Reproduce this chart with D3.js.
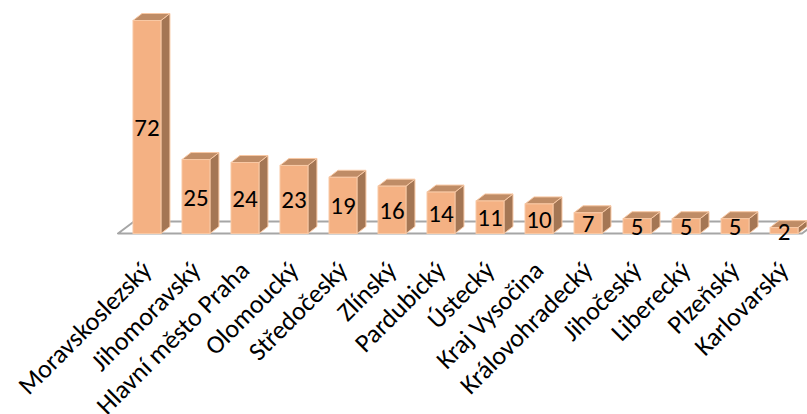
<!DOCTYPE html>
<html>
<head>
<meta charset="utf-8">
<script src="https://cdn.jsdelivr.net/npm/d3@7"></script>
<style>
  html, body { margin: 0; padding: 0; background: #fff; }
  svg { display: block; }
  text { font-family: Carlito, Lato, "Open Sans", sans-serif; fill: #000; }
</style>
</head>
<body>
<svg id="chart" width="807" height="414"></svg>
<script>
// Počet případů podle krajů
const regions = ["Moravskoslezský", "Jihomoravský", "Hlavní město Praha", "Olomoucký",
  "Středočeský", "Zlínský", "Pardubický", "Ústecký", "Kraj Vysočina",
  "Královohradecký", "Jihočeský", "Liberecký", "Plzeňský", "Karlovarský"];
const counts = [72, 25, 24, 23, 19, 16, 14, 11, 10, 7, 5, 5, 5, 2];

const svg = d3.select("#chart");

// plot geometry
const baseY = 233.5;          // front edge of the floor
const depthX = 9, depthY = 7; // 3D depth of each bar
const floorDX = 16, floorDY = 12;

const x = d3.scaleBand()
  .domain(regions)
  .range([133, 798])
  .paddingInner(0.43)
  .paddingOuter(0);

const y = d3.scaleLinear()
  .domain([0, 72])
  .range([baseY, 20.5]);

// floor
const floorLeft = 118, floorRight = 802;
svg.append("path")
  .attr("d", `M${floorLeft},${baseY} L${floorRight},${baseY} L${floorRight + floorDX},${baseY - floorDY} L${floorLeft + floorDX},${baseY - floorDY} Z`)
  .attr("fill", "#fff")
  .attr("stroke", "#a6a6a6")
  .attr("stroke-width", 2)
  .attr("stroke-linejoin", "round");

const colors = { front: "#f4b183", top: "#bf8c66", side: "#a47654", edge: "#f8c8a4" };

const bars = svg.append("g").selectAll("g")
  .data(regions.map((r, i) => ({ region: r, value: counts[i] })))
  .join("g");

bars.each(function(d) {
  const g = d3.select(this);
  const x0 = x(d.region), w = x.bandwidth();
  const yTop = y(d.value), yBot = y(0);
  // side face
  g.append("path")
    .attr("d", `M${x0 + w},${yTop} L${x0 + w + depthX},${yTop - depthY} L${x0 + w + depthX},${yBot - depthY} L${x0 + w},${yBot} Z`)
    .attr("fill", colors.side).attr("stroke", colors.edge).attr("stroke-width", 1);
  // top face
  g.append("path")
    .attr("d", `M${x0},${yTop} L${x0 + depthX},${yTop - depthY} L${x0 + w + depthX},${yTop - depthY} L${x0 + w},${yTop} Z`)
    .attr("fill", colors.top).attr("stroke", colors.edge).attr("stroke-width", 1);
  // front face
  g.append("rect")
    .attr("x", x0).attr("y", yTop)
    .attr("width", w).attr("height", yBot - yTop)
    .attr("fill", colors.front).attr("stroke", colors.edge).attr("stroke-width", 1);
  // value label
  g.append("text")
    .attr("x", x0 + w / 2)
    .attr("y", (yTop + yBot) / 2)
    .attr("dy", "0.36em")
    .attr("text-anchor", "middle")
    .attr("font-size", 25)
    .text(d.value);
});

// category labels, rotated
svg.append("g").selectAll("text")
  .data(regions)
  .join("text")
  .attr("transform", d => `translate(${x(d) + x.bandwidth() / 2 + 6},${272}) rotate(-45)`)
  .attr("text-anchor", "end")
  .attr("font-size", 26)
  .text(d => d);
</script>
</body>
</html>
